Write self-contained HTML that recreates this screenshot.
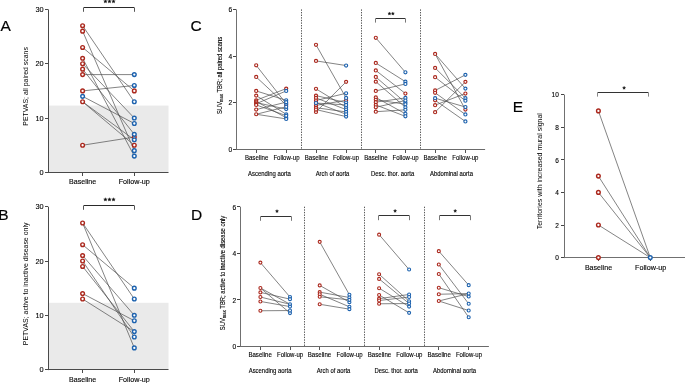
<!DOCTYPE html>
<html><head><meta charset="utf-8"><style>
html,body{margin:0;padding:0;background:#fff;}
body{width:685px;height:383px;overflow:hidden;}
svg{display:block;font-family:"Liberation Sans", sans-serif;will-change:transform;}
svg text{fill:#000;}
svg text.s{stroke:#000;stroke-width:0.12px;}
</style></head><body>
<svg width="685" height="383" viewBox="0 0 685 383">
<rect x="49" y="105.57" width="119.50" height="66.83" fill="#eaeaea"/>
<line x1="48.50" y1="9.40" x2="48.50" y2="172.90" stroke="#4a4a4a" stroke-width="1" />
<line x1="45.00" y1="172.50" x2="48.00" y2="172.50" stroke="#4a4a4a" stroke-width="1" />
<text x="43.70" y="175.06" font-size="8.0" text-anchor="end" textLength="4.10" lengthAdjust="spacingAndGlyphs" class="s">0</text>
<line x1="45.00" y1="118.50" x2="48.00" y2="118.50" stroke="#4a4a4a" stroke-width="1" />
<text x="43.70" y="120.73" font-size="8.0" text-anchor="end" textLength="8.20" lengthAdjust="spacingAndGlyphs" class="s">10</text>
<line x1="45.00" y1="63.50" x2="48.00" y2="63.50" stroke="#4a4a4a" stroke-width="1" />
<text x="43.70" y="66.40" font-size="8.0" text-anchor="end" textLength="8.20" lengthAdjust="spacingAndGlyphs" class="s">20</text>
<line x1="45.00" y1="9.50" x2="48.00" y2="9.50" stroke="#4a4a4a" stroke-width="1" />
<text x="43.70" y="12.06" font-size="8.0" text-anchor="end" textLength="8.20" lengthAdjust="spacingAndGlyphs" class="s">30</text>
<line x1="48.00" y1="172.50" x2="168.50" y2="172.50" stroke="#4a4a4a" stroke-width="1" />
<line x1="82.50" y1="173.00" x2="82.50" y2="176.00" stroke="#4a4a4a" stroke-width="1" />
<line x1="134.50" y1="173.00" x2="134.50" y2="176.00" stroke="#4a4a4a" stroke-width="1" />
<text x="82.60" y="184.00" font-size="7.1" text-anchor="middle" textLength="27.20" lengthAdjust="spacingAndGlyphs" class="s">Baseline</text>
<text x="134.30" y="184.00" font-size="7.1" text-anchor="middle" textLength="31.20" lengthAdjust="spacingAndGlyphs" class="s">Follow-up</text>
<text transform="translate(27.80,86.40) rotate(-90)" font-size="7.4" text-anchor="middle" textLength="78.60" lengthAdjust="spacingAndGlyphs" >PETVAS; all paired scans</text>
<line x1="82.60" y1="25.70" x2="134.30" y2="101.77" stroke="#4f4f4f" stroke-width="0.7" />
<line x1="82.60" y1="31.13" x2="134.30" y2="150.67" stroke="#4f4f4f" stroke-width="0.7" />
<line x1="82.60" y1="47.43" x2="134.30" y2="90.90" stroke="#4f4f4f" stroke-width="0.7" />
<line x1="82.60" y1="58.30" x2="134.30" y2="156.10" stroke="#4f4f4f" stroke-width="0.7" />
<line x1="82.60" y1="63.73" x2="134.30" y2="118.07" stroke="#4f4f4f" stroke-width="0.7" />
<line x1="82.60" y1="69.17" x2="134.30" y2="134.37" stroke="#4f4f4f" stroke-width="0.7" />
<line x1="82.60" y1="74.60" x2="134.30" y2="74.60" stroke="#4f4f4f" stroke-width="0.7" />
<line x1="82.60" y1="90.90" x2="134.30" y2="85.47" stroke="#4f4f4f" stroke-width="0.7" />
<line x1="82.60" y1="96.33" x2="134.30" y2="123.50" stroke="#4f4f4f" stroke-width="0.7" />
<line x1="82.60" y1="101.77" x2="134.30" y2="139.80" stroke="#4f4f4f" stroke-width="0.7" />
<line x1="82.60" y1="101.77" x2="134.30" y2="145.23" stroke="#4f4f4f" stroke-width="0.7" />
<line x1="82.60" y1="145.23" x2="134.30" y2="137.08" stroke="#4f4f4f" stroke-width="0.7" />
<circle cx="82.60" cy="25.70" r="1.85" fill="#fff" stroke="#ab281d" stroke-width="1.4"/>
<circle cx="82.60" cy="31.13" r="1.85" fill="#fff" stroke="#ab281d" stroke-width="1.4"/>
<circle cx="82.60" cy="47.43" r="1.85" fill="#fff" stroke="#ab281d" stroke-width="1.4"/>
<circle cx="134.30" cy="90.90" r="1.85" fill="#fff" stroke="#ab281d" stroke-width="1.4"/>
<circle cx="82.60" cy="58.30" r="1.85" fill="#fff" stroke="#ab281d" stroke-width="1.4"/>
<circle cx="82.60" cy="63.73" r="1.85" fill="#fff" stroke="#ab281d" stroke-width="1.4"/>
<circle cx="82.60" cy="69.17" r="1.85" fill="#fff" stroke="#ab281d" stroke-width="1.4"/>
<circle cx="82.60" cy="74.60" r="1.85" fill="#fff" stroke="#ab281d" stroke-width="1.4"/>
<circle cx="82.60" cy="90.90" r="1.85" fill="#fff" stroke="#ab281d" stroke-width="1.4"/>
<circle cx="82.60" cy="101.77" r="1.85" fill="#fff" stroke="#ab281d" stroke-width="1.4"/>
<circle cx="134.30" cy="145.23" r="1.85" fill="#fff" stroke="#ab281d" stroke-width="1.4"/>
<circle cx="82.60" cy="145.23" r="1.85" fill="#fff" stroke="#ab281d" stroke-width="1.4"/>
<circle cx="134.30" cy="137.08" r="1.85" fill="#fff" stroke="#ab281d" stroke-width="1.4"/>
<circle cx="134.30" cy="101.77" r="1.85" fill="#fff" stroke="#1d62ae" stroke-width="1.4"/>
<circle cx="134.30" cy="150.67" r="1.85" fill="#fff" stroke="#1d62ae" stroke-width="1.4"/>
<circle cx="134.30" cy="156.10" r="1.85" fill="#fff" stroke="#1d62ae" stroke-width="1.4"/>
<circle cx="134.30" cy="118.07" r="1.85" fill="#fff" stroke="#1d62ae" stroke-width="1.4"/>
<circle cx="134.30" cy="134.37" r="1.85" fill="#fff" stroke="#1d62ae" stroke-width="1.4"/>
<circle cx="134.30" cy="74.60" r="1.85" fill="#fff" stroke="#1d62ae" stroke-width="1.4"/>
<circle cx="134.30" cy="85.47" r="1.85" fill="#fff" stroke="#1d62ae" stroke-width="1.4"/>
<circle cx="82.60" cy="96.33" r="1.85" fill="#fff" stroke="#1d62ae" stroke-width="1.4"/>
<circle cx="134.30" cy="123.50" r="1.85" fill="#fff" stroke="#1d62ae" stroke-width="1.4"/>
<circle cx="134.30" cy="139.80" r="1.85" fill="#fff" stroke="#1d62ae" stroke-width="1.4"/>
<path d="M83.50,7.50 H134.50" fill="none" stroke="#2a2a2a" stroke-width="1"/>
<path d="M83.50,8.00 V11.80 M134.50,8.00 V11.80" fill="none" stroke="#555" stroke-width="1"/>
<polygon points="105.40,-0.45 105.94,0.65 107.16,0.83 106.28,1.69 106.49,2.90 105.40,2.33 104.31,2.90 104.52,1.69 103.64,0.83 104.86,0.65" fill="#111" stroke="#111" stroke-width="0.3"/>
<polygon points="109.45,-0.45 109.99,0.65 111.21,0.83 110.33,1.69 110.54,2.90 109.45,2.33 108.36,2.90 108.57,1.69 107.69,0.83 108.91,0.65" fill="#111" stroke="#111" stroke-width="0.3"/>
<polygon points="113.50,-0.45 114.04,0.65 115.26,0.83 114.38,1.69 114.59,2.90 113.50,2.33 112.41,2.90 112.62,1.69 111.74,0.83 112.96,0.65" fill="#111" stroke="#111" stroke-width="0.3"/>
<text x="0.6" y="31.0" font-size="15.5" stroke="#111" stroke-width="0.18" >A</text>
<rect x="49" y="302.81" width="119.50" height="66.79" fill="#eaeaea"/>
<line x1="48.50" y1="206.70" x2="48.50" y2="370.10" stroke="#4a4a4a" stroke-width="1" />
<line x1="45.00" y1="369.50" x2="48.00" y2="369.50" stroke="#4a4a4a" stroke-width="1" />
<text x="43.70" y="372.26" font-size="8.0" text-anchor="end" textLength="4.10" lengthAdjust="spacingAndGlyphs" class="s">0</text>
<line x1="45.00" y1="315.50" x2="48.00" y2="315.50" stroke="#4a4a4a" stroke-width="1" />
<text x="43.70" y="317.96" font-size="8.0" text-anchor="end" textLength="8.20" lengthAdjust="spacingAndGlyphs" class="s">10</text>
<line x1="45.00" y1="261.50" x2="48.00" y2="261.50" stroke="#4a4a4a" stroke-width="1" />
<text x="43.70" y="263.66" font-size="8.0" text-anchor="end" textLength="8.20" lengthAdjust="spacingAndGlyphs" class="s">20</text>
<line x1="45.00" y1="206.50" x2="48.00" y2="206.50" stroke="#4a4a4a" stroke-width="1" />
<text x="43.70" y="209.36" font-size="8.0" text-anchor="end" textLength="8.20" lengthAdjust="spacingAndGlyphs" class="s">30</text>
<line x1="48.00" y1="369.50" x2="168.50" y2="369.50" stroke="#4a4a4a" stroke-width="1" />
<line x1="82.50" y1="370.00" x2="82.50" y2="373.00" stroke="#4a4a4a" stroke-width="1" />
<line x1="134.50" y1="370.00" x2="134.50" y2="373.00" stroke="#4a4a4a" stroke-width="1" />
<text x="82.60" y="381.50" font-size="7.1" text-anchor="middle" textLength="27.20" lengthAdjust="spacingAndGlyphs" class="s">Baseline</text>
<text x="134.30" y="381.50" font-size="7.1" text-anchor="middle" textLength="31.20" lengthAdjust="spacingAndGlyphs" class="s">Follow-up</text>
<text transform="translate(27.80,283.90) rotate(-90)" font-size="7.4" text-anchor="middle" textLength="122.60" lengthAdjust="spacingAndGlyphs" >PETVAS; active to inactive disease only</text>
<line x1="82.60" y1="222.99" x2="134.30" y2="299.01" stroke="#4f4f4f" stroke-width="0.7" />
<line x1="82.60" y1="222.99" x2="134.30" y2="347.88" stroke="#4f4f4f" stroke-width="0.7" />
<line x1="82.60" y1="244.71" x2="134.30" y2="288.15" stroke="#4f4f4f" stroke-width="0.7" />
<line x1="82.60" y1="255.57" x2="134.30" y2="315.30" stroke="#4f4f4f" stroke-width="0.7" />
<line x1="82.60" y1="261.00" x2="134.30" y2="337.02" stroke="#4f4f4f" stroke-width="0.7" />
<line x1="82.60" y1="266.43" x2="134.30" y2="331.59" stroke="#4f4f4f" stroke-width="0.7" />
<line x1="82.60" y1="293.58" x2="134.30" y2="320.73" stroke="#4f4f4f" stroke-width="0.7" />
<line x1="82.60" y1="299.01" x2="134.30" y2="331.59" stroke="#4f4f4f" stroke-width="0.7" />
<circle cx="82.60" cy="222.99" r="1.85" fill="#fff" stroke="#ab281d" stroke-width="1.4"/>
<circle cx="82.60" cy="244.71" r="1.85" fill="#fff" stroke="#ab281d" stroke-width="1.4"/>
<circle cx="82.60" cy="255.57" r="1.85" fill="#fff" stroke="#ab281d" stroke-width="1.4"/>
<circle cx="82.60" cy="261.00" r="1.85" fill="#fff" stroke="#ab281d" stroke-width="1.4"/>
<circle cx="82.60" cy="266.43" r="1.85" fill="#fff" stroke="#ab281d" stroke-width="1.4"/>
<circle cx="82.60" cy="293.58" r="1.85" fill="#fff" stroke="#ab281d" stroke-width="1.4"/>
<circle cx="82.60" cy="299.01" r="1.85" fill="#fff" stroke="#ab281d" stroke-width="1.4"/>
<circle cx="134.30" cy="299.01" r="1.85" fill="#fff" stroke="#1d62ae" stroke-width="1.4"/>
<circle cx="134.30" cy="347.88" r="1.85" fill="#fff" stroke="#1d62ae" stroke-width="1.4"/>
<circle cx="134.30" cy="288.15" r="1.85" fill="#fff" stroke="#1d62ae" stroke-width="1.4"/>
<circle cx="134.30" cy="315.30" r="1.85" fill="#fff" stroke="#1d62ae" stroke-width="1.4"/>
<circle cx="134.30" cy="337.02" r="1.85" fill="#fff" stroke="#1d62ae" stroke-width="1.4"/>
<circle cx="134.30" cy="331.59" r="1.85" fill="#fff" stroke="#1d62ae" stroke-width="1.4"/>
<circle cx="134.30" cy="320.73" r="1.85" fill="#fff" stroke="#1d62ae" stroke-width="1.4"/>
<path d="M83.50,205.50 H134.50" fill="none" stroke="#2a2a2a" stroke-width="1"/>
<path d="M83.50,206.00 V209.80 M134.50,206.00 V209.80" fill="none" stroke="#555" stroke-width="1"/>
<polygon points="105.40,197.65 105.94,198.75 107.16,198.93 106.28,199.79 106.49,201.00 105.40,200.43 104.31,201.00 104.52,199.79 103.64,198.93 104.86,198.75" fill="#111" stroke="#111" stroke-width="0.3"/>
<polygon points="109.45,197.65 109.99,198.75 111.21,198.93 110.33,199.79 110.54,201.00 109.45,200.43 108.36,201.00 108.57,199.79 107.69,198.93 108.91,198.75" fill="#111" stroke="#111" stroke-width="0.3"/>
<polygon points="113.50,197.65 114.04,198.75 115.26,198.93 114.38,199.79 114.59,201.00 113.50,200.43 112.41,201.00 112.62,199.79 111.74,198.93 112.96,198.75" fill="#111" stroke="#111" stroke-width="0.3"/>
<text x="-1.7" y="219.8" font-size="15.5" stroke="#111" stroke-width="0.18" stroke-width="0.6">B</text>
<line x1="301.50" y1="9.40" x2="301.50" y2="149.20" stroke="#5a5a5a" stroke-width="1" stroke-dasharray="1.4,1.2"/>
<line x1="361.50" y1="9.40" x2="361.50" y2="149.20" stroke="#5a5a5a" stroke-width="1" stroke-dasharray="1.4,1.2"/>
<line x1="420.50" y1="9.40" x2="420.50" y2="149.20" stroke="#5a5a5a" stroke-width="1" stroke-dasharray="1.4,1.2"/>
<line x1="236.50" y1="9.40" x2="236.50" y2="149.70" stroke="#707070" stroke-width="1" />
<line x1="233.00" y1="149.50" x2="236.00" y2="149.50" stroke="#444" stroke-width="1" />
<text x="232.20" y="152.06" font-size="6.6" text-anchor="end" class="s">0</text>
<line x1="233.00" y1="102.50" x2="236.00" y2="102.50" stroke="#444" stroke-width="1" />
<text x="232.20" y="105.46" font-size="6.6" text-anchor="end" class="s">2</text>
<line x1="233.00" y1="56.50" x2="236.00" y2="56.50" stroke="#444" stroke-width="1" />
<text x="232.20" y="58.86" font-size="6.6" text-anchor="end" class="s">4</text>
<line x1="233.00" y1="9.50" x2="236.00" y2="9.50" stroke="#444" stroke-width="1" />
<text x="232.20" y="12.26" font-size="6.6" text-anchor="end" class="s">6</text>
<line x1="236.00" y1="149.50" x2="485.10" y2="149.50" stroke="#6a6a6a" stroke-width="1" />
<line x1="256.50" y1="150.00" x2="256.50" y2="153.00" stroke="#555" stroke-width="1" />
<line x1="286.50" y1="150.00" x2="286.50" y2="153.00" stroke="#555" stroke-width="1" />
<line x1="316.50" y1="150.00" x2="316.50" y2="153.00" stroke="#555" stroke-width="1" />
<line x1="346.50" y1="150.00" x2="346.50" y2="153.00" stroke="#555" stroke-width="1" />
<line x1="375.50" y1="150.00" x2="375.50" y2="153.00" stroke="#555" stroke-width="1" />
<line x1="405.50" y1="150.00" x2="405.50" y2="153.00" stroke="#555" stroke-width="1" />
<line x1="435.50" y1="150.00" x2="435.50" y2="153.00" stroke="#555" stroke-width="1" />
<line x1="465.50" y1="150.00" x2="465.50" y2="153.00" stroke="#555" stroke-width="1" />
<text x="256.60" y="159.90" font-size="6.4" text-anchor="middle" textLength="23.40" lengthAdjust="spacingAndGlyphs" class="s">Baseline</text>
<text x="286.50" y="159.90" font-size="6.4" text-anchor="middle" textLength="26.20" lengthAdjust="spacingAndGlyphs" class="s">Follow-up</text>
<text x="269.50" y="175.60" font-size="6.4" text-anchor="middle" textLength="42.80" lengthAdjust="spacingAndGlyphs" class="s">Ascending aorta</text>
<text x="316.40" y="159.90" font-size="6.4" text-anchor="middle" textLength="23.40" lengthAdjust="spacingAndGlyphs" class="s">Baseline</text>
<text x="346.00" y="159.90" font-size="6.4" text-anchor="middle" textLength="26.20" lengthAdjust="spacingAndGlyphs" class="s">Follow-up</text>
<text x="332.50" y="175.60" font-size="6.4" text-anchor="middle" textLength="33.60" lengthAdjust="spacingAndGlyphs" class="s">Arch of aorta</text>
<text x="375.90" y="159.90" font-size="6.4" text-anchor="middle" textLength="23.40" lengthAdjust="spacingAndGlyphs" class="s">Baseline</text>
<text x="405.60" y="159.90" font-size="6.4" text-anchor="middle" textLength="26.20" lengthAdjust="spacingAndGlyphs" class="s">Follow-up</text>
<text x="392.60" y="175.60" font-size="6.4" text-anchor="middle" textLength="43.30" lengthAdjust="spacingAndGlyphs" class="s">Desc. thor. aorta</text>
<text x="435.20" y="159.90" font-size="6.4" text-anchor="middle" textLength="23.40" lengthAdjust="spacingAndGlyphs" class="s">Baseline</text>
<text x="465.40" y="159.90" font-size="6.4" text-anchor="middle" textLength="26.20" lengthAdjust="spacingAndGlyphs" class="s">Follow-up</text>
<text x="451.50" y="175.60" font-size="6.4" text-anchor="middle" textLength="43.00" lengthAdjust="spacingAndGlyphs" class="s">Abdominal aorta</text>
<line x1="256.20" y1="65.32" x2="286.20" y2="103.76" stroke="#4f4f4f" stroke-width="0.7" />
<line x1="256.20" y1="76.97" x2="286.20" y2="104.93" stroke="#4f4f4f" stroke-width="0.7" />
<line x1="256.20" y1="90.95" x2="286.20" y2="100.27" stroke="#4f4f4f" stroke-width="0.7" />
<line x1="256.20" y1="95.61" x2="286.20" y2="114.25" stroke="#4f4f4f" stroke-width="0.7" />
<line x1="256.20" y1="100.27" x2="286.20" y2="88.62" stroke="#4f4f4f" stroke-width="0.7" />
<line x1="256.20" y1="101.44" x2="286.20" y2="117.74" stroke="#4f4f4f" stroke-width="0.7" />
<line x1="256.20" y1="102.60" x2="286.20" y2="109.12" stroke="#4f4f4f" stroke-width="0.7" />
<line x1="256.20" y1="103.76" x2="286.20" y2="90.95" stroke="#4f4f4f" stroke-width="0.7" />
<line x1="256.20" y1="104.93" x2="286.20" y2="115.65" stroke="#4f4f4f" stroke-width="0.7" />
<line x1="256.20" y1="109.59" x2="286.20" y2="102.13" stroke="#4f4f4f" stroke-width="0.7" />
<line x1="256.20" y1="114.25" x2="286.20" y2="118.91" stroke="#4f4f4f" stroke-width="0.7" />
<line x1="256.20" y1="114.25" x2="286.20" y2="106.79" stroke="#4f4f4f" stroke-width="0.7" />
<circle cx="256.20" cy="65.32" r="1.55" fill="#fff" stroke="#ab281d" stroke-width="1.15"/>
<circle cx="256.20" cy="76.97" r="1.55" fill="#fff" stroke="#ab281d" stroke-width="1.15"/>
<circle cx="286.20" cy="104.93" r="1.55" fill="#fff" stroke="#ab281d" stroke-width="1.15"/>
<circle cx="256.20" cy="90.95" r="1.55" fill="#fff" stroke="#ab281d" stroke-width="1.15"/>
<circle cx="256.20" cy="95.61" r="1.55" fill="#fff" stroke="#ab281d" stroke-width="1.15"/>
<circle cx="256.20" cy="100.27" r="1.55" fill="#fff" stroke="#ab281d" stroke-width="1.15"/>
<circle cx="286.20" cy="88.62" r="1.55" fill="#fff" stroke="#ab281d" stroke-width="1.15"/>
<circle cx="256.20" cy="101.44" r="1.55" fill="#fff" stroke="#ab281d" stroke-width="1.15"/>
<circle cx="256.20" cy="102.60" r="1.55" fill="#fff" stroke="#ab281d" stroke-width="1.15"/>
<circle cx="256.20" cy="103.76" r="1.55" fill="#fff" stroke="#ab281d" stroke-width="1.15"/>
<circle cx="256.20" cy="104.93" r="1.55" fill="#fff" stroke="#ab281d" stroke-width="1.15"/>
<circle cx="256.20" cy="109.59" r="1.55" fill="#fff" stroke="#ab281d" stroke-width="1.15"/>
<circle cx="256.20" cy="114.25" r="1.55" fill="#fff" stroke="#ab281d" stroke-width="1.15"/>
<circle cx="286.20" cy="103.76" r="1.55" fill="#fff" stroke="#1d62ae" stroke-width="1.15"/>
<circle cx="286.20" cy="100.27" r="1.55" fill="#fff" stroke="#1d62ae" stroke-width="1.15"/>
<circle cx="286.20" cy="114.25" r="1.55" fill="#fff" stroke="#1d62ae" stroke-width="1.15"/>
<circle cx="286.20" cy="117.74" r="1.55" fill="#fff" stroke="#1d62ae" stroke-width="1.15"/>
<circle cx="286.20" cy="109.12" r="1.55" fill="#fff" stroke="#1d62ae" stroke-width="1.15"/>
<circle cx="286.20" cy="90.95" r="1.55" fill="#fff" stroke="#1d62ae" stroke-width="1.15"/>
<circle cx="286.20" cy="115.65" r="1.55" fill="#fff" stroke="#1d62ae" stroke-width="1.15"/>
<circle cx="286.20" cy="102.13" r="1.55" fill="#fff" stroke="#1d62ae" stroke-width="1.15"/>
<circle cx="286.20" cy="118.91" r="1.55" fill="#fff" stroke="#1d62ae" stroke-width="1.15"/>
<circle cx="286.20" cy="106.79" r="1.55" fill="#fff" stroke="#1d62ae" stroke-width="1.15"/>
<line x1="316.00" y1="44.82" x2="346.10" y2="97.94" stroke="#4f4f4f" stroke-width="0.7" />
<line x1="316.00" y1="60.89" x2="346.10" y2="65.55" stroke="#4f4f4f" stroke-width="0.7" />
<line x1="316.00" y1="88.85" x2="346.10" y2="107.26" stroke="#4f4f4f" stroke-width="0.7" />
<line x1="316.00" y1="95.61" x2="346.10" y2="102.60" stroke="#4f4f4f" stroke-width="0.7" />
<line x1="316.00" y1="97.94" x2="346.10" y2="109.59" stroke="#4f4f4f" stroke-width="0.7" />
<line x1="316.00" y1="100.50" x2="346.10" y2="93.28" stroke="#4f4f4f" stroke-width="0.7" />
<line x1="316.00" y1="103.07" x2="346.10" y2="104.93" stroke="#4f4f4f" stroke-width="0.7" />
<line x1="316.00" y1="105.40" x2="346.10" y2="100.27" stroke="#4f4f4f" stroke-width="0.7" />
<line x1="316.00" y1="107.73" x2="346.10" y2="111.92" stroke="#4f4f4f" stroke-width="0.7" />
<line x1="316.00" y1="111.92" x2="346.10" y2="81.86" stroke="#4f4f4f" stroke-width="0.7" />
<line x1="316.00" y1="109.59" x2="346.10" y2="116.58" stroke="#4f4f4f" stroke-width="0.7" />
<line x1="316.00" y1="102.60" x2="346.10" y2="114.25" stroke="#4f4f4f" stroke-width="0.7" />
<circle cx="316.00" cy="44.82" r="1.55" fill="#fff" stroke="#ab281d" stroke-width="1.15"/>
<circle cx="316.00" cy="60.89" r="1.55" fill="#fff" stroke="#ab281d" stroke-width="1.15"/>
<circle cx="316.00" cy="88.85" r="1.55" fill="#fff" stroke="#ab281d" stroke-width="1.15"/>
<circle cx="316.00" cy="95.61" r="1.55" fill="#fff" stroke="#ab281d" stroke-width="1.15"/>
<circle cx="316.00" cy="97.94" r="1.55" fill="#fff" stroke="#ab281d" stroke-width="1.15"/>
<circle cx="316.00" cy="100.50" r="1.55" fill="#fff" stroke="#ab281d" stroke-width="1.15"/>
<circle cx="316.00" cy="105.40" r="1.55" fill="#fff" stroke="#ab281d" stroke-width="1.15"/>
<circle cx="346.10" cy="100.27" r="1.55" fill="#fff" stroke="#ab281d" stroke-width="1.15"/>
<circle cx="316.00" cy="107.73" r="1.55" fill="#fff" stroke="#ab281d" stroke-width="1.15"/>
<circle cx="316.00" cy="111.92" r="1.55" fill="#fff" stroke="#ab281d" stroke-width="1.15"/>
<circle cx="346.10" cy="81.86" r="1.55" fill="#fff" stroke="#ab281d" stroke-width="1.15"/>
<circle cx="316.00" cy="109.59" r="1.55" fill="#fff" stroke="#ab281d" stroke-width="1.15"/>
<circle cx="316.00" cy="102.60" r="1.55" fill="#fff" stroke="#ab281d" stroke-width="1.15"/>
<circle cx="346.10" cy="97.94" r="1.55" fill="#fff" stroke="#1d62ae" stroke-width="1.15"/>
<circle cx="346.10" cy="65.55" r="1.55" fill="#fff" stroke="#1d62ae" stroke-width="1.15"/>
<circle cx="346.10" cy="107.26" r="1.55" fill="#fff" stroke="#1d62ae" stroke-width="1.15"/>
<circle cx="346.10" cy="102.60" r="1.55" fill="#fff" stroke="#1d62ae" stroke-width="1.15"/>
<circle cx="346.10" cy="109.59" r="1.55" fill="#fff" stroke="#1d62ae" stroke-width="1.15"/>
<circle cx="346.10" cy="93.28" r="1.55" fill="#fff" stroke="#1d62ae" stroke-width="1.15"/>
<circle cx="316.00" cy="103.07" r="1.55" fill="#fff" stroke="#1d62ae" stroke-width="1.15"/>
<circle cx="346.10" cy="104.93" r="1.55" fill="#fff" stroke="#1d62ae" stroke-width="1.15"/>
<circle cx="346.10" cy="111.92" r="1.55" fill="#fff" stroke="#1d62ae" stroke-width="1.15"/>
<circle cx="346.10" cy="116.58" r="1.55" fill="#fff" stroke="#1d62ae" stroke-width="1.15"/>
<circle cx="346.10" cy="114.25" r="1.55" fill="#fff" stroke="#1d62ae" stroke-width="1.15"/>
<line x1="375.80" y1="37.83" x2="405.40" y2="72.31" stroke="#4f4f4f" stroke-width="0.7" />
<line x1="375.80" y1="62.99" x2="405.40" y2="81.63" stroke="#4f4f4f" stroke-width="0.7" />
<line x1="375.80" y1="70.45" x2="405.40" y2="93.51" stroke="#4f4f4f" stroke-width="0.7" />
<line x1="375.80" y1="76.97" x2="405.40" y2="102.60" stroke="#4f4f4f" stroke-width="0.7" />
<line x1="375.80" y1="81.63" x2="405.40" y2="107.26" stroke="#4f4f4f" stroke-width="0.7" />
<line x1="375.80" y1="90.95" x2="405.40" y2="83.96" stroke="#4f4f4f" stroke-width="0.7" />
<line x1="375.80" y1="97.47" x2="405.40" y2="113.78" stroke="#4f4f4f" stroke-width="0.7" />
<line x1="375.80" y1="99.80" x2="405.40" y2="104.23" stroke="#4f4f4f" stroke-width="0.7" />
<line x1="375.80" y1="102.13" x2="405.40" y2="97.94" stroke="#4f4f4f" stroke-width="0.7" />
<line x1="375.80" y1="104.93" x2="405.40" y2="116.35" stroke="#4f4f4f" stroke-width="0.7" />
<line x1="375.80" y1="107.26" x2="405.40" y2="100.50" stroke="#4f4f4f" stroke-width="0.7" />
<line x1="375.80" y1="111.69" x2="405.40" y2="109.82" stroke="#4f4f4f" stroke-width="0.7" />
<circle cx="375.80" cy="37.83" r="1.55" fill="#fff" stroke="#ab281d" stroke-width="1.15"/>
<circle cx="375.80" cy="62.99" r="1.55" fill="#fff" stroke="#ab281d" stroke-width="1.15"/>
<circle cx="375.80" cy="70.45" r="1.55" fill="#fff" stroke="#ab281d" stroke-width="1.15"/>
<circle cx="405.40" cy="93.51" r="1.55" fill="#fff" stroke="#ab281d" stroke-width="1.15"/>
<circle cx="375.80" cy="76.97" r="1.55" fill="#fff" stroke="#ab281d" stroke-width="1.15"/>
<circle cx="375.80" cy="81.63" r="1.55" fill="#fff" stroke="#ab281d" stroke-width="1.15"/>
<circle cx="375.80" cy="90.95" r="1.55" fill="#fff" stroke="#ab281d" stroke-width="1.15"/>
<circle cx="375.80" cy="97.47" r="1.55" fill="#fff" stroke="#ab281d" stroke-width="1.15"/>
<circle cx="375.80" cy="99.80" r="1.55" fill="#fff" stroke="#ab281d" stroke-width="1.15"/>
<circle cx="375.80" cy="102.13" r="1.55" fill="#fff" stroke="#ab281d" stroke-width="1.15"/>
<circle cx="375.80" cy="104.93" r="1.55" fill="#fff" stroke="#ab281d" stroke-width="1.15"/>
<circle cx="375.80" cy="107.26" r="1.55" fill="#fff" stroke="#ab281d" stroke-width="1.15"/>
<circle cx="375.80" cy="111.69" r="1.55" fill="#fff" stroke="#ab281d" stroke-width="1.15"/>
<circle cx="405.40" cy="72.31" r="1.55" fill="#fff" stroke="#1d62ae" stroke-width="1.15"/>
<circle cx="405.40" cy="81.63" r="1.55" fill="#fff" stroke="#1d62ae" stroke-width="1.15"/>
<circle cx="405.40" cy="102.60" r="1.55" fill="#fff" stroke="#1d62ae" stroke-width="1.15"/>
<circle cx="405.40" cy="107.26" r="1.55" fill="#fff" stroke="#1d62ae" stroke-width="1.15"/>
<circle cx="405.40" cy="83.96" r="1.55" fill="#fff" stroke="#1d62ae" stroke-width="1.15"/>
<circle cx="405.40" cy="113.78" r="1.55" fill="#fff" stroke="#1d62ae" stroke-width="1.15"/>
<circle cx="405.40" cy="104.23" r="1.55" fill="#fff" stroke="#1d62ae" stroke-width="1.15"/>
<circle cx="405.40" cy="97.94" r="1.55" fill="#fff" stroke="#1d62ae" stroke-width="1.15"/>
<circle cx="405.40" cy="116.35" r="1.55" fill="#fff" stroke="#1d62ae" stroke-width="1.15"/>
<circle cx="405.40" cy="100.50" r="1.55" fill="#fff" stroke="#1d62ae" stroke-width="1.15"/>
<circle cx="405.40" cy="109.82" r="1.55" fill="#fff" stroke="#1d62ae" stroke-width="1.15"/>
<line x1="435.10" y1="53.90" x2="465.40" y2="88.62" stroke="#4f4f4f" stroke-width="0.7" />
<line x1="435.10" y1="53.90" x2="465.40" y2="109.59" stroke="#4f4f4f" stroke-width="0.7" />
<line x1="435.10" y1="67.88" x2="465.40" y2="98.17" stroke="#4f4f4f" stroke-width="0.7" />
<line x1="435.10" y1="77.20" x2="465.40" y2="100.74" stroke="#4f4f4f" stroke-width="0.7" />
<line x1="435.10" y1="90.48" x2="465.40" y2="74.87" stroke="#4f4f4f" stroke-width="0.7" />
<line x1="435.10" y1="92.81" x2="465.40" y2="114.48" stroke="#4f4f4f" stroke-width="0.7" />
<line x1="435.10" y1="98.17" x2="465.40" y2="107.03" stroke="#4f4f4f" stroke-width="0.7" />
<line x1="435.10" y1="100.27" x2="465.40" y2="121.47" stroke="#4f4f4f" stroke-width="0.7" />
<line x1="435.10" y1="105.16" x2="465.40" y2="93.51" stroke="#4f4f4f" stroke-width="0.7" />
<line x1="435.10" y1="112.15" x2="465.40" y2="81.86" stroke="#4f4f4f" stroke-width="0.7" />
<circle cx="435.10" cy="53.90" r="1.55" fill="#fff" stroke="#ab281d" stroke-width="1.15"/>
<circle cx="465.40" cy="109.59" r="1.55" fill="#fff" stroke="#ab281d" stroke-width="1.15"/>
<circle cx="435.10" cy="67.88" r="1.55" fill="#fff" stroke="#ab281d" stroke-width="1.15"/>
<circle cx="435.10" cy="77.20" r="1.55" fill="#fff" stroke="#ab281d" stroke-width="1.15"/>
<circle cx="435.10" cy="90.48" r="1.55" fill="#fff" stroke="#ab281d" stroke-width="1.15"/>
<circle cx="435.10" cy="92.81" r="1.55" fill="#fff" stroke="#ab281d" stroke-width="1.15"/>
<circle cx="435.10" cy="100.27" r="1.55" fill="#fff" stroke="#ab281d" stroke-width="1.15"/>
<circle cx="435.10" cy="105.16" r="1.55" fill="#fff" stroke="#ab281d" stroke-width="1.15"/>
<circle cx="465.40" cy="93.51" r="1.55" fill="#fff" stroke="#ab281d" stroke-width="1.15"/>
<circle cx="435.10" cy="112.15" r="1.55" fill="#fff" stroke="#ab281d" stroke-width="1.15"/>
<circle cx="465.40" cy="81.86" r="1.55" fill="#fff" stroke="#ab281d" stroke-width="1.15"/>
<circle cx="465.40" cy="88.62" r="1.55" fill="#fff" stroke="#1d62ae" stroke-width="1.15"/>
<circle cx="465.40" cy="98.17" r="1.55" fill="#fff" stroke="#1d62ae" stroke-width="1.15"/>
<circle cx="465.40" cy="100.74" r="1.55" fill="#fff" stroke="#1d62ae" stroke-width="1.15"/>
<circle cx="465.40" cy="74.87" r="1.55" fill="#fff" stroke="#1d62ae" stroke-width="1.15"/>
<circle cx="465.40" cy="114.48" r="1.55" fill="#fff" stroke="#1d62ae" stroke-width="1.15"/>
<circle cx="435.10" cy="98.17" r="1.55" fill="#fff" stroke="#1d62ae" stroke-width="1.15"/>
<circle cx="465.40" cy="107.03" r="1.55" fill="#fff" stroke="#1d62ae" stroke-width="1.15"/>
<circle cx="465.40" cy="121.47" r="1.55" fill="#fff" stroke="#1d62ae" stroke-width="1.15"/>
<path d="M375.50,18.50 H405.50" fill="none" stroke="#333" stroke-width="1"/>
<path d="M375.50,19.00 V22.60 M405.50,19.00 V22.60" fill="none" stroke="#777" stroke-width="1"/>
<polygon points="389.45,11.95 389.93,12.93 391.02,13.09 390.23,13.85 390.42,14.93 389.45,14.42 388.48,14.93 388.67,13.85 387.88,13.09 388.97,12.93" fill="#111" stroke="#111" stroke-width="0.3"/>
<polygon points="392.85,11.95 393.33,12.93 394.42,13.09 393.63,13.85 393.82,14.93 392.85,14.42 391.88,14.93 392.07,13.85 391.28,13.09 392.37,12.93" fill="#111" stroke="#111" stroke-width="0.3"/>
<text transform="translate(221.80,75.40) rotate(-90)" font-size="7" text-anchor="middle" class="s" textLength="77.2" lengthAdjust="spacingAndGlyphs">SUV<tspan font-size="5" dy="1.3">max</tspan><tspan dy="-1.3"> TBR; all paired scans</tspan></text>
<text x="190.6" y="30.8" font-size="15.5" stroke="#111" stroke-width="0.18">C</text>
<line x1="304.50" y1="206.70" x2="304.50" y2="346.40" stroke="#5a5a5a" stroke-width="1" stroke-dasharray="1.4,1.2"/>
<line x1="364.50" y1="206.70" x2="364.50" y2="346.40" stroke="#5a5a5a" stroke-width="1" stroke-dasharray="1.4,1.2"/>
<line x1="424.50" y1="206.70" x2="424.50" y2="346.40" stroke="#5a5a5a" stroke-width="1" stroke-dasharray="1.4,1.2"/>
<line x1="240.50" y1="206.70" x2="240.50" y2="346.90" stroke="#707070" stroke-width="1" />
<line x1="237.00" y1="346.50" x2="240.00" y2="346.50" stroke="#444" stroke-width="1" />
<text x="236.20" y="349.26" font-size="6.6" text-anchor="end" class="s">0</text>
<line x1="237.00" y1="299.50" x2="240.00" y2="299.50" stroke="#444" stroke-width="1" />
<text x="236.20" y="302.70" font-size="6.6" text-anchor="end" class="s">2</text>
<line x1="237.00" y1="253.50" x2="240.00" y2="253.50" stroke="#444" stroke-width="1" />
<text x="236.20" y="256.13" font-size="6.6" text-anchor="end" class="s">4</text>
<line x1="237.00" y1="206.50" x2="240.00" y2="206.50" stroke="#444" stroke-width="1" />
<text x="236.20" y="209.56" font-size="6.6" text-anchor="end" class="s">6</text>
<line x1="240.00" y1="346.50" x2="488.90" y2="346.50" stroke="#6a6a6a" stroke-width="1" />
<line x1="260.50" y1="347.00" x2="260.50" y2="350.00" stroke="#555" stroke-width="1" />
<line x1="290.50" y1="347.00" x2="290.50" y2="350.00" stroke="#555" stroke-width="1" />
<line x1="319.50" y1="347.00" x2="319.50" y2="350.00" stroke="#555" stroke-width="1" />
<line x1="349.50" y1="347.00" x2="349.50" y2="350.00" stroke="#555" stroke-width="1" />
<line x1="379.50" y1="347.00" x2="379.50" y2="350.00" stroke="#555" stroke-width="1" />
<line x1="409.50" y1="347.00" x2="409.50" y2="350.00" stroke="#555" stroke-width="1" />
<line x1="438.50" y1="347.00" x2="438.50" y2="350.00" stroke="#555" stroke-width="1" />
<line x1="468.50" y1="347.00" x2="468.50" y2="350.00" stroke="#555" stroke-width="1" />
<text x="260.10" y="356.90" font-size="6.4" text-anchor="middle" textLength="23.40" lengthAdjust="spacingAndGlyphs" class="s">Baseline</text>
<text x="290.10" y="356.90" font-size="6.4" text-anchor="middle" textLength="26.20" lengthAdjust="spacingAndGlyphs" class="s">Follow-up</text>
<text x="270.10" y="373.40" font-size="6.4" text-anchor="middle" textLength="42.80" lengthAdjust="spacingAndGlyphs" class="s">Ascending aorta</text>
<text x="319.50" y="356.90" font-size="6.4" text-anchor="middle" textLength="23.40" lengthAdjust="spacingAndGlyphs" class="s">Baseline</text>
<text x="349.60" y="356.90" font-size="6.4" text-anchor="middle" textLength="26.20" lengthAdjust="spacingAndGlyphs" class="s">Follow-up</text>
<text x="333.50" y="373.40" font-size="6.4" text-anchor="middle" textLength="33.60" lengthAdjust="spacingAndGlyphs" class="s">Arch of aorta</text>
<text x="379.50" y="356.90" font-size="6.4" text-anchor="middle" textLength="23.40" lengthAdjust="spacingAndGlyphs" class="s">Baseline</text>
<text x="409.30" y="356.90" font-size="6.4" text-anchor="middle" textLength="26.20" lengthAdjust="spacingAndGlyphs" class="s">Follow-up</text>
<text x="396.20" y="373.40" font-size="6.4" text-anchor="middle" textLength="43.30" lengthAdjust="spacingAndGlyphs" class="s">Desc. thor. aorta</text>
<text x="439.20" y="356.90" font-size="6.4" text-anchor="middle" textLength="23.40" lengthAdjust="spacingAndGlyphs" class="s">Baseline</text>
<text x="469.00" y="356.90" font-size="6.4" text-anchor="middle" textLength="26.20" lengthAdjust="spacingAndGlyphs" class="s">Follow-up</text>
<text x="454.60" y="373.40" font-size="6.4" text-anchor="middle" textLength="43.00" lengthAdjust="spacingAndGlyphs" class="s">Abdominal aorta</text>
<line x1="260.40" y1="262.58" x2="290.00" y2="297.04" stroke="#4f4f4f" stroke-width="0.7" />
<line x1="260.40" y1="287.96" x2="290.00" y2="313.10" stroke="#4f4f4f" stroke-width="0.7" />
<line x1="260.40" y1="292.38" x2="290.00" y2="299.13" stroke="#4f4f4f" stroke-width="0.7" />
<line x1="260.40" y1="297.04" x2="290.00" y2="304.26" stroke="#4f4f4f" stroke-width="0.7" />
<line x1="260.40" y1="301.46" x2="290.00" y2="306.59" stroke="#4f4f4f" stroke-width="0.7" />
<line x1="260.40" y1="310.78" x2="290.00" y2="310.54" stroke="#4f4f4f" stroke-width="0.7" />
<line x1="260.40" y1="287.96" x2="290.00" y2="304.26" stroke="#4f4f4f" stroke-width="0.7" />
<circle cx="260.40" cy="262.58" r="1.5" fill="#fff" stroke="#ab281d" stroke-width="1.1"/>
<circle cx="260.40" cy="287.96" r="1.5" fill="#fff" stroke="#ab281d" stroke-width="1.1"/>
<circle cx="260.40" cy="292.38" r="1.5" fill="#fff" stroke="#ab281d" stroke-width="1.1"/>
<circle cx="260.40" cy="297.04" r="1.5" fill="#fff" stroke="#ab281d" stroke-width="1.1"/>
<circle cx="260.40" cy="301.46" r="1.5" fill="#fff" stroke="#ab281d" stroke-width="1.1"/>
<circle cx="260.40" cy="310.78" r="1.5" fill="#fff" stroke="#ab281d" stroke-width="1.1"/>
<circle cx="290.00" cy="297.04" r="1.5" fill="#fff" stroke="#1d62ae" stroke-width="1.1"/>
<circle cx="290.00" cy="313.10" r="1.5" fill="#fff" stroke="#1d62ae" stroke-width="1.1"/>
<circle cx="290.00" cy="299.13" r="1.5" fill="#fff" stroke="#1d62ae" stroke-width="1.1"/>
<circle cx="290.00" cy="304.26" r="1.5" fill="#fff" stroke="#1d62ae" stroke-width="1.1"/>
<circle cx="290.00" cy="306.59" r="1.5" fill="#fff" stroke="#1d62ae" stroke-width="1.1"/>
<circle cx="290.00" cy="310.54" r="1.5" fill="#fff" stroke="#1d62ae" stroke-width="1.1"/>
<line x1="319.70" y1="241.86" x2="349.40" y2="294.71" stroke="#4f4f4f" stroke-width="0.7" />
<line x1="319.70" y1="285.40" x2="349.40" y2="302.16" stroke="#4f4f4f" stroke-width="0.7" />
<line x1="319.70" y1="292.15" x2="349.40" y2="297.50" stroke="#4f4f4f" stroke-width="0.7" />
<line x1="319.70" y1="294.25" x2="349.40" y2="306.82" stroke="#4f4f4f" stroke-width="0.7" />
<line x1="319.70" y1="296.81" x2="349.40" y2="299.83" stroke="#4f4f4f" stroke-width="0.7" />
<line x1="319.70" y1="304.26" x2="349.40" y2="309.15" stroke="#4f4f4f" stroke-width="0.7" />
<circle cx="319.70" cy="241.86" r="1.5" fill="#fff" stroke="#ab281d" stroke-width="1.1"/>
<circle cx="319.70" cy="285.40" r="1.5" fill="#fff" stroke="#ab281d" stroke-width="1.1"/>
<circle cx="319.70" cy="292.15" r="1.5" fill="#fff" stroke="#ab281d" stroke-width="1.1"/>
<circle cx="319.70" cy="294.25" r="1.5" fill="#fff" stroke="#ab281d" stroke-width="1.1"/>
<circle cx="319.70" cy="296.81" r="1.5" fill="#fff" stroke="#ab281d" stroke-width="1.1"/>
<circle cx="319.70" cy="304.26" r="1.5" fill="#fff" stroke="#ab281d" stroke-width="1.1"/>
<circle cx="349.40" cy="294.71" r="1.5" fill="#fff" stroke="#1d62ae" stroke-width="1.1"/>
<circle cx="349.40" cy="302.16" r="1.5" fill="#fff" stroke="#1d62ae" stroke-width="1.1"/>
<circle cx="349.40" cy="297.50" r="1.5" fill="#fff" stroke="#1d62ae" stroke-width="1.1"/>
<circle cx="349.40" cy="306.82" r="1.5" fill="#fff" stroke="#1d62ae" stroke-width="1.1"/>
<circle cx="349.40" cy="299.83" r="1.5" fill="#fff" stroke="#1d62ae" stroke-width="1.1"/>
<circle cx="349.40" cy="309.15" r="1.5" fill="#fff" stroke="#1d62ae" stroke-width="1.1"/>
<line x1="379.10" y1="234.64" x2="409.10" y2="269.56" stroke="#4f4f4f" stroke-width="0.7" />
<line x1="379.10" y1="274.22" x2="409.10" y2="301.23" stroke="#4f4f4f" stroke-width="0.7" />
<line x1="379.10" y1="278.88" x2="409.10" y2="303.56" stroke="#4f4f4f" stroke-width="0.7" />
<line x1="379.10" y1="288.19" x2="409.10" y2="306.59" stroke="#4f4f4f" stroke-width="0.7" />
<line x1="379.10" y1="294.94" x2="409.10" y2="312.87" stroke="#4f4f4f" stroke-width="0.7" />
<line x1="379.10" y1="298.67" x2="409.10" y2="294.48" stroke="#4f4f4f" stroke-width="0.7" />
<line x1="379.10" y1="300.53" x2="409.10" y2="297.04" stroke="#4f4f4f" stroke-width="0.7" />
<line x1="379.10" y1="303.79" x2="409.10" y2="303.56" stroke="#4f4f4f" stroke-width="0.7" />
<circle cx="379.10" cy="234.64" r="1.5" fill="#fff" stroke="#ab281d" stroke-width="1.1"/>
<circle cx="379.10" cy="274.22" r="1.5" fill="#fff" stroke="#ab281d" stroke-width="1.1"/>
<circle cx="379.10" cy="278.88" r="1.5" fill="#fff" stroke="#ab281d" stroke-width="1.1"/>
<circle cx="379.10" cy="288.19" r="1.5" fill="#fff" stroke="#ab281d" stroke-width="1.1"/>
<circle cx="379.10" cy="294.94" r="1.5" fill="#fff" stroke="#ab281d" stroke-width="1.1"/>
<circle cx="379.10" cy="298.67" r="1.5" fill="#fff" stroke="#ab281d" stroke-width="1.1"/>
<circle cx="379.10" cy="300.53" r="1.5" fill="#fff" stroke="#ab281d" stroke-width="1.1"/>
<circle cx="379.10" cy="303.79" r="1.5" fill="#fff" stroke="#ab281d" stroke-width="1.1"/>
<circle cx="409.10" cy="269.56" r="1.5" fill="#fff" stroke="#1d62ae" stroke-width="1.1"/>
<circle cx="409.10" cy="301.23" r="1.5" fill="#fff" stroke="#1d62ae" stroke-width="1.1"/>
<circle cx="409.10" cy="303.56" r="1.5" fill="#fff" stroke="#1d62ae" stroke-width="1.1"/>
<circle cx="409.10" cy="306.59" r="1.5" fill="#fff" stroke="#1d62ae" stroke-width="1.1"/>
<circle cx="409.10" cy="312.87" r="1.5" fill="#fff" stroke="#1d62ae" stroke-width="1.1"/>
<circle cx="409.10" cy="294.48" r="1.5" fill="#fff" stroke="#1d62ae" stroke-width="1.1"/>
<circle cx="409.10" cy="297.04" r="1.5" fill="#fff" stroke="#1d62ae" stroke-width="1.1"/>
<line x1="438.80" y1="251.17" x2="468.70" y2="285.16" stroke="#4f4f4f" stroke-width="0.7" />
<line x1="438.80" y1="264.44" x2="468.70" y2="303.79" stroke="#4f4f4f" stroke-width="0.7" />
<line x1="438.80" y1="273.99" x2="468.70" y2="317.30" stroke="#4f4f4f" stroke-width="0.7" />
<line x1="438.80" y1="287.73" x2="468.70" y2="296.57" stroke="#4f4f4f" stroke-width="0.7" />
<line x1="438.80" y1="294.25" x2="468.70" y2="293.55" stroke="#4f4f4f" stroke-width="0.7" />
<line x1="438.80" y1="301.00" x2="468.70" y2="310.54" stroke="#4f4f4f" stroke-width="0.7" />
<line x1="438.80" y1="301.00" x2="468.70" y2="293.55" stroke="#4f4f4f" stroke-width="0.7" />
<circle cx="438.80" cy="251.17" r="1.5" fill="#fff" stroke="#ab281d" stroke-width="1.1"/>
<circle cx="438.80" cy="264.44" r="1.5" fill="#fff" stroke="#ab281d" stroke-width="1.1"/>
<circle cx="438.80" cy="273.99" r="1.5" fill="#fff" stroke="#ab281d" stroke-width="1.1"/>
<circle cx="438.80" cy="287.73" r="1.5" fill="#fff" stroke="#ab281d" stroke-width="1.1"/>
<circle cx="438.80" cy="294.25" r="1.5" fill="#fff" stroke="#ab281d" stroke-width="1.1"/>
<circle cx="438.80" cy="301.00" r="1.5" fill="#fff" stroke="#ab281d" stroke-width="1.1"/>
<circle cx="468.70" cy="285.16" r="1.5" fill="#fff" stroke="#1d62ae" stroke-width="1.1"/>
<circle cx="468.70" cy="303.79" r="1.5" fill="#fff" stroke="#1d62ae" stroke-width="1.1"/>
<circle cx="468.70" cy="317.30" r="1.5" fill="#fff" stroke="#1d62ae" stroke-width="1.1"/>
<circle cx="468.70" cy="296.57" r="1.5" fill="#fff" stroke="#1d62ae" stroke-width="1.1"/>
<circle cx="468.70" cy="293.55" r="1.5" fill="#fff" stroke="#1d62ae" stroke-width="1.1"/>
<circle cx="468.70" cy="310.54" r="1.5" fill="#fff" stroke="#1d62ae" stroke-width="1.1"/>
<path d="M260.50,216.50 H291.50" fill="none" stroke="#333" stroke-width="1"/>
<path d="M260.50,217.00 V220.80 M291.50,217.00 V220.80" fill="none" stroke="#777" stroke-width="1"/>
<polygon points="277.00,209.55 277.48,210.53 278.57,210.69 277.78,211.45 277.97,212.53 277.00,212.02 276.03,212.53 276.22,211.45 275.43,210.69 276.52,210.53" fill="#111" stroke="#111" stroke-width="0.3"/>
<path d="M378.50,215.50 H409.50" fill="none" stroke="#333" stroke-width="1"/>
<path d="M378.50,216.00 V220.20 M409.50,216.00 V220.20" fill="none" stroke="#777" stroke-width="1"/>
<polygon points="395.10,209.35 395.58,210.33 396.67,210.49 395.88,211.25 396.07,212.33 395.10,211.82 394.13,212.33 394.32,211.25 393.53,210.49 394.62,210.33" fill="#111" stroke="#111" stroke-width="0.3"/>
<path d="M439.50,215.50 H470.50" fill="none" stroke="#333" stroke-width="1"/>
<path d="M439.50,216.00 V220.20 M470.50,216.00 V220.20" fill="none" stroke="#777" stroke-width="1"/>
<polygon points="455.20,209.35 455.68,210.33 456.77,210.49 455.98,211.25 456.17,212.33 455.20,211.82 454.23,212.33 454.42,211.25 453.63,210.49 454.72,210.33" fill="#111" stroke="#111" stroke-width="0.3"/>
<text transform="translate(225.10,273.00) rotate(-90)" font-size="7" text-anchor="middle" class="s" textLength="114.6" lengthAdjust="spacingAndGlyphs">SUV<tspan font-size="5" dy="1.3">max</tspan><tspan dy="-1.3"> TBR; active to inactive disease only</tspan></text>
<text x="191.0" y="219.8" font-size="15.5" stroke="#111" stroke-width="0.18">D</text>
<line x1="564.50" y1="94.60" x2="564.50" y2="258.10" stroke="#707070" stroke-width="1" />
<line x1="561.00" y1="257.50" x2="564.00" y2="257.50" stroke="#444" stroke-width="1" />
<text x="558.80" y="260.43" font-size="6.5" text-anchor="end" class="s">0</text>
<line x1="561.00" y1="225.50" x2="564.00" y2="225.50" stroke="#444" stroke-width="1" />
<text x="558.80" y="227.83" font-size="6.5" text-anchor="end" class="s">2</text>
<line x1="561.00" y1="192.50" x2="564.00" y2="192.50" stroke="#444" stroke-width="1" />
<text x="558.80" y="195.23" font-size="6.5" text-anchor="end" class="s">4</text>
<line x1="561.00" y1="159.50" x2="564.00" y2="159.50" stroke="#444" stroke-width="1" />
<text x="558.80" y="162.63" font-size="6.5" text-anchor="end" class="s">6</text>
<line x1="561.00" y1="127.50" x2="564.00" y2="127.50" stroke="#444" stroke-width="1" />
<text x="558.80" y="130.03" font-size="6.5" text-anchor="end" class="s">8</text>
<line x1="561.00" y1="94.50" x2="564.00" y2="94.50" stroke="#444" stroke-width="1" />
<text x="558.80" y="97.43" font-size="6.5" text-anchor="end" class="s">10</text>
<line x1="564.00" y1="257.50" x2="685.00" y2="257.50" stroke="#707070" stroke-width="1" />
<line x1="598.50" y1="258.00" x2="598.50" y2="261.00" stroke="#555" stroke-width="1" />
<line x1="650.50" y1="258.00" x2="650.50" y2="261.00" stroke="#555" stroke-width="1" />
<text x="598.50" y="269.50" font-size="7.0" text-anchor="middle" textLength="27.20" lengthAdjust="spacingAndGlyphs" class="s">Baseline</text>
<text x="650.70" y="269.50" font-size="7.0" text-anchor="middle" textLength="31.20" lengthAdjust="spacingAndGlyphs" class="s">Follow-up</text>
<text transform="translate(542.40,171.20) rotate(-90)" font-size="7.2" text-anchor="middle" textLength="116.00" lengthAdjust="spacingAndGlyphs" >Territories with increased mural signal</text>
<line x1="598.40" y1="110.90" x2="650.30" y2="257.60" stroke="#4f4f4f" stroke-width="0.7" />
<line x1="598.40" y1="176.10" x2="650.30" y2="257.60" stroke="#4f4f4f" stroke-width="0.7" />
<line x1="598.40" y1="192.40" x2="650.30" y2="257.60" stroke="#4f4f4f" stroke-width="0.7" />
<line x1="598.40" y1="225.00" x2="650.30" y2="257.60" stroke="#4f4f4f" stroke-width="0.7" />
<circle cx="598.40" cy="110.90" r="1.85" fill="#fff" stroke="#ab281d" stroke-width="1.4"/>
<circle cx="598.40" cy="176.10" r="1.85" fill="#fff" stroke="#ab281d" stroke-width="1.4"/>
<circle cx="598.40" cy="192.40" r="1.85" fill="#fff" stroke="#ab281d" stroke-width="1.4"/>
<circle cx="598.40" cy="225.00" r="1.85" fill="#fff" stroke="#ab281d" stroke-width="1.4"/>
<circle cx="598.40" cy="257.60" r="1.85" fill="#fff" stroke="#ab281d" stroke-width="1.4"/>
<circle cx="650.30" cy="257.60" r="1.85" fill="#fff" stroke="#1d62ae" stroke-width="1.4"/>
<path d="M597.50,92.50 H648.50" fill="none" stroke="#333" stroke-width="1"/>
<path d="M597.50,93.00 V96.60 M648.50,93.00 V96.60" fill="none" stroke="#888" stroke-width="1"/>
<polygon points="624.10,86.25 624.58,87.23 625.67,87.39 624.88,88.15 625.07,89.23 624.10,88.73 623.13,89.23 623.32,88.15 622.53,87.39 623.62,87.23" fill="#111" stroke="#111" stroke-width="0.3"/>
<text x="512.8" y="112.2" font-size="15.5" stroke="#111" stroke-width="0.18">E</text>
</svg>
</body></html>
